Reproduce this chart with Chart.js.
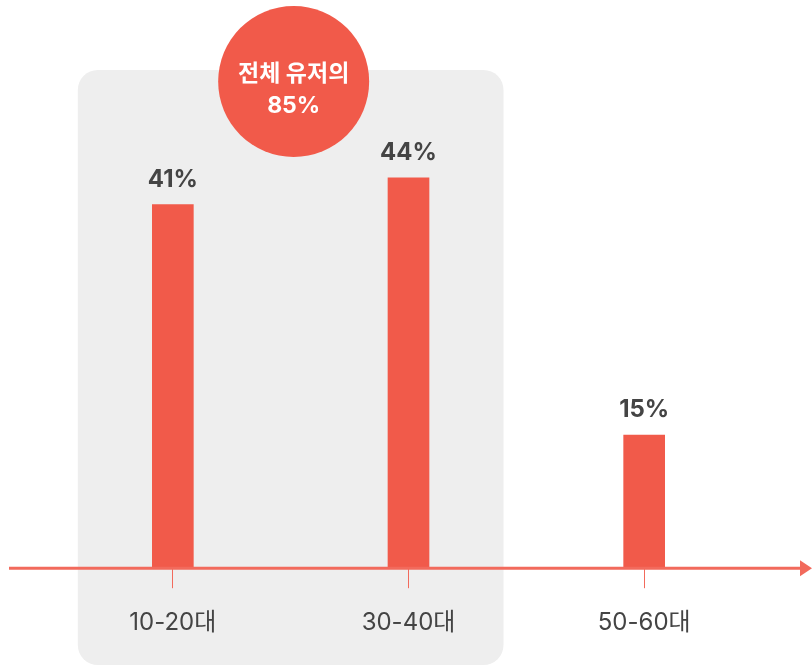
<!DOCTYPE html>
<html>
<head>
<meta charset="utf-8">
<script src="https://cdn.jsdelivr.net/npm/chart.js@4/dist/chart.umd.min.js"></script>
<style>
  html, body { margin: 0; padding: 0; background: #fff; }
  #wrap { width: 812px; height: 665px; position: relative; }
</style>
</head>
<body>
<div id="wrap"><canvas id="ageChart"></canvas></div>
<script>
const categories = ['10-20대', '30-40대', '50-60대'];
const shares = [41, 44, 15];
const highlightText = ['전체 유저의', '85%'];

const RED = '#F15A4A';
const LINE_RED = '#F26A5C';
const TEXT = '#444444';
const FONT = "Inter, 'Noto Sans CJK KR', sans-serif";

// grey panel + badge behind the first two groups, axis arrow and value labels
const decor = {
    id: 'decor',
    beforeDraw(chart) {
        const ctx = chart.ctx;
        const x = chart.scales.x;
        const left = x.getPixelForValue(0) - 95;
        const right = x.getPixelForValue(1) + 95;
        ctx.save();
        ctx.fillStyle = '#EEEEEE';
        ctx.beginPath();
        ctx.roundRect(left, 70, right - left, 595, 20);
        ctx.fill();

        const cx = (left + right) / 2 + 3;
        ctx.fillStyle = RED;
        ctx.beginPath();
        ctx.arc(cx, 81.5, 75.5, 0, Math.PI * 2);
        ctx.fill();
        ctx.fillStyle = '#ffffff';
        ctx.font = 'bold 23px ' + FONT;
        ctx.textAlign = 'center';
        ctx.textBaseline = 'middle';
        ctx.fillText(highlightText[0], cx, 74);
        ctx.fillText(highlightText[1], cx, 106);
        ctx.restore();
    },
    afterDatasetsDraw(chart) {
        const ctx = chart.ctx;
        const y0 = chart.scales.y.getPixelForValue(0);
        ctx.save();
        ctx.strokeStyle = LINE_RED;
        ctx.lineWidth = 3;
        ctx.beginPath();
        ctx.moveTo(9, y0);
        ctx.lineTo(802, y0);
        ctx.stroke();
        ctx.fillStyle = LINE_RED;
        ctx.beginPath();
        ctx.moveTo(800, y0 - 8);
        ctx.lineTo(812, y0);
        ctx.lineTo(800, y0 + 8);
        ctx.closePath();
        ctx.fill();

        ctx.fillStyle = TEXT;
        ctx.font = 'bold 24px ' + FONT;
        ctx.textAlign = 'center';
        ctx.textBaseline = 'alphabetic';
        chart.getDatasetMeta(0).data.forEach((bar, i) => {
            ctx.fillText(shares[i] + '%', bar.x, bar.y - 18);
        });
        ctx.restore();
    }
};

new Chart(document.getElementById('ageChart'), {
    type: 'bar',
    data: {
        labels: categories,
        datasets: [{
            data: shares,
            backgroundColor: RED,
            barThickness: 41,
            borderWidth: 0
        }]
    },
    options: {
        responsive: true,
        maintainAspectRatio: false,
        animation: false,
        layout: { padding: { top: 36, left: 55, right: 50, bottom: 8 } },
        plugins: {
            legend: { display: false },
            tooltip: { enabled: false }
        },
        scales: {
            x: {
                offset: true,
                border: { display: false },
                grid: {
                    offset: false,
                    drawOnChartArea: false,
                    drawTicks: true,
                    tickLength: 20,
                    tickColor: LINE_RED,
                    lineWidth: 1
                },
                ticks: {
                    padding: 20,
                    color: TEXT,
                    font: { family: FONT, size: 24 }
                }
            },
            y: {
                display: false,
                min: 0,
                max: 60
            }
        }
    },
    plugins: [decor]
});
</script>
</body>
</html>
